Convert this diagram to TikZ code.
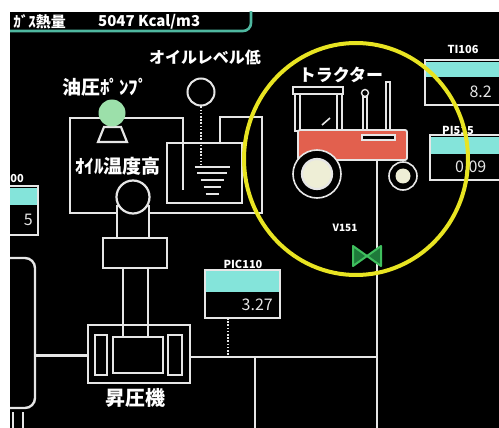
\documentclass[tikz,border=0pt]{standalone}
\usepackage{fontspec}
\setmainfont{Noto Sans CJK JP}
\definecolor{pipewhite}{HTML}{E6E6E6}
\definecolor{bandcyan}{HTML}{84E4DA}
\definecolor{hdrteal}{HTML}{4FB8A0}
\definecolor{pumpgreen}{HTML}{9CE0AA}
\definecolor{valvegreen}{HTML}{3FBF5E}
\definecolor{valvedark}{HTML}{1E7A3A}
\definecolor{tractorred}{HTML}{E2604E}
\definecolor{wheelcream}{HTML}{EEEED6}
\definecolor{ringyellow}{HTML}{E8E422}
\begin{document}
\begin{tikzpicture}[x=1pt,y=-1pt,
  pipe/.style={draw=pipewhite,line width=2.4pt},
  thinpipe/.style={draw=pipewhite,line width=1.6pt},
  part/.style={draw=pipewhite,line width=2.2pt,fill=black},
  impulse/.style={draw=pipewhite,line width=1.6pt,dash pattern=on 1.6pt off 1.6pt},
  lbl/.style={text=white,inner sep=0pt,font=\bfseries\fontsize{#1}{#1}\selectfont},
  lbl/.default=16,
  tag/.style={text=white,inner sep=0pt,font=\bfseries\fontsize{11}{11}\selectfont},
  val/.style={text=pipewhite,inner sep=0pt,font=\fontsize{16}{16}\selectfont},
  band/.style={fill=bandcyan},
  frame/.style={draw=pipewhite,line width=1.6pt},
  valvehalf/.style={draw=valvegreen,line width=2pt,fill=valvedark,line join=round}]
\useasboundingbox (0,0) rectangle (499,428);
\fill[white] (0,0) rectangle (499,428);
\begin{scope}
\clip (10,12) rectangle (499,428);
\fill[black] (10,12) rectangle (499,428);

% header strip
\node[lbl=15,anchor=east] (hdrname) at (66,22) {ｶﾞｽ熱量};
\node[lbl=15,anchor=west] (hdrval) at (98,22) {5047 Kcal/m3};
\draw[hdrteal,line width=2.6pt,rounded corners=8pt] (0,31) -- (251,31) -- (251,0);

% oil circuit
\draw[pipe] (183,190) -- (183,118) -- (70,118) -- (70,213) -- (117,213);
\draw[pipe] (149,213) -- (262,213) -- (262,117) -- (220,117) -- (220,143);
\draw[pipe] (117,205) -- (117,238);
\draw[pipe] (149,205) -- (149,238);

% oil tank with level marks
\draw[part,fill=none] (167,143) rectangle (242,203);
\draw[pipe] (183,150) -- (183,190);
\foreach \yy/\hw in {167/17.5,173/15,180/11.5,187/8.5,194/6.5}
  \draw[thinpipe] (212-\hw,\yy) -- (212+\hw,\yy);
\node[circle,draw=pipewhite,line width=2pt,fill=black,minimum size=27pt,inner sep=0pt] (lvlsw) at (201,92) {};
\draw[impulse] (lvlsw.south) -- (201,165);
\node[lbl=16] (lvllabel) at (205,57) {オイルレベル低};

% oil pump
\draw[part] (104,127) -- (121,127) -- (127,142) -- (98,142) -- cycle;
\node[circle,fill=pumpgreen,minimum size=27pt,inner sep=0pt] (pump) at (112,113) {};
\node[lbl=19] (pumplabel) at (105,87) {油圧ﾎﾟﾝﾌﾟ};

% oil temperature switch
\node[circle,draw=pipewhite,line width=2.2pt,fill=black,minimum size=33pt,inner sep=0pt] (tempsw) at (133,197) {};
\node[lbl=19] (templabel) at (118,166) {ｵｲﾙ温度高};

% gear box and shaft
\node[part,minimum width=64pt,minimum height=30pt,inner sep=0pt] (gear) at (135,253) {};
\draw[pipe] (123,268) -- (123,337);
\draw[pipe] (148,268) -- (148,337);

% compressor
\node[part,minimum width=102pt,minimum height=58pt,inner sep=0pt] (comp) at (139,354) {};
\draw[pipe] (123,325) -- (123,337);
\draw[pipe] (148,325) -- (148,337);
\draw[part] (95,335) rectangle (107,375);
\draw[part] (113,337) rectangle (163,373);
\draw[part] (168,335) rectangle (182,375);
\node[lbl=20] (complabel) at (135,398) {昇圧機};

% process piping
\coordinate (pleft) at (35,355);
\coordinate (tee) at (377,357);
\coordinate (drop) at (255,357);
\draw[pipe,line width=3pt] (pleft) -- (comp.west |- pleft);
\draw[pipe] (comp.east |- tee) -- (tee);
\draw[pipe] (drop) -- (255,430);
\draw[pipe] (377,160) -- (377,430);
\draw[pipe,rounded corners=10pt] (0,258) -- (35,258) -- (35,408) -- (0,408);
\draw[pipe] (13,412) -- (13,430);
\draw[pipe] (23,412) -- (23,430);

% left instrument (partly off screen)
\draw[band] (0,187) rectangle (38,205);
\draw[frame] (0,186) rectangle (38,235);
\node[tag,anchor=east] (leftTag) at (24,179) {00};
\node[val,anchor=east] (leftVal) at (33,220) {5};

% PIC110
\node[tag] (pictag) at (243,264) {PIC110};
\draw[band] (205,270) rectangle (280,292);
\draw[frame] (205,270) rectangle (280,318);
\node[val,anchor=east] (picval) at (273,305) {3.27};
\draw[impulse] (228,318) -- (228,355);

% TI106
\node[tag] (titag) at (463,49) {TI106};
\draw[band] (425,61) rectangle (510,77);
\draw[frame] (425,60) rectangle (510,105);
\node[val,anchor=east] (tival) at (492,92) {8.2};

% PI515
\node[tag] (pitag) at (458,130) {PI515};
\draw[band] (430,136) rectangle (510,154);
\draw[frame] (430,135) rectangle (510,180);
\node[val,anchor=west] (pival) at (455,167) {0.09};

% tractor
\node[lbl=17] (tractorlabel) at (341,75) {トラクター};
\draw[thinpipe,fill=black] (295,94) rectangle (300,131);
\draw[thinpipe,fill=black] (337,94) rectangle (342,131);
\draw[thinpipe,fill=black] (293,87) rectangle (343,94);
\draw[thinpipe] (322,125) -- (330,118);
\draw[thinpipe,fill=black] (363,97) rectangle (367,132);
\node[circle,draw=pipewhite,line width=1.4pt,fill=black,minimum size=7pt,inner sep=0pt] (stack) at (365,93) {};
\draw[thinpipe,fill=black] (386,82) rectangle (390,131);
\draw[draw=pipewhite,line width=1.8pt,fill=tractorred,rounded corners=2pt] (298,130) rectangle (407,160);
\draw[thinpipe,fill=black] (362,135) rectangle (395,140);
\node[circle,draw=pipewhite,line width=1.6pt,fill=black,minimum size=48pt,inner sep=0pt] (rearwheel) at (317,174) {};
\node[circle,draw=pipewhite,line width=2.2pt,fill=wheelcream,minimum size=30pt,inner sep=0pt] at (rearwheel) {};
\node[circle,draw=pipewhite,line width=1.6pt,fill=black,minimum size=28pt,inner sep=0pt] (frontwheel) at (403,176) {};
\node[circle,fill=wheelcream,minimum size=15pt,inner sep=0pt] at (frontwheel) {};

% valve V151
\node[tag,font=\bfseries\fontsize{10}{10}\selectfont] (valvetag) at (345,228) {V151};
\draw[pipe] (377,240) -- (377,270);
\draw[valvehalf] (353,246) -- (367,256) -- (353,266) -- cycle;
\draw[valvehalf] (381,246) -- (367,256) -- (381,266) -- cycle;

% highlight ring
\draw[ringyellow,line width=4pt] (356,159) ellipse [x radius=112, y radius=116];
\end{scope}
\end{tikzpicture}
\end{document}
